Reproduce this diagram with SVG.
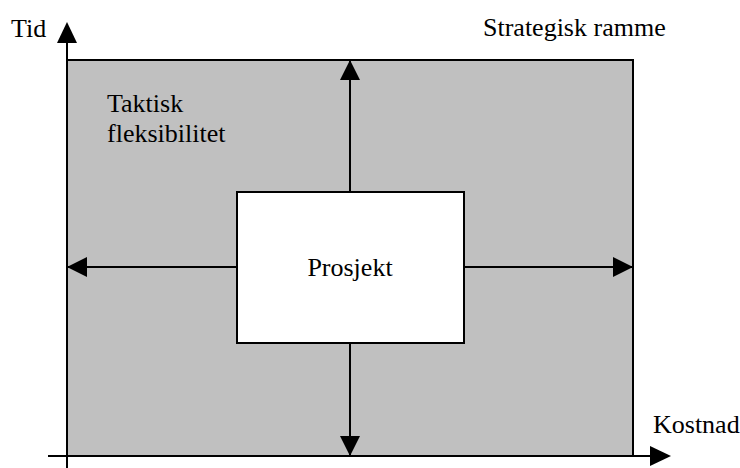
<svg xmlns="http://www.w3.org/2000/svg" width="740" height="468" viewBox="0 0 740 468">
<style>
.t{font-family:'Liberation Serif','Times New Roman','DejaVu Serif',serif;font-size:26px;fill:#000}
.ln{stroke:#000;stroke-width:2;fill:none}
</style>
<defs>
<marker id="ah" viewBox="0 0 20 20" refX="20" refY="10" markerWidth="20" markerHeight="20" markerUnits="userSpaceOnUse" orient="auto"><path d="M0,0 L20,10 L0,20 Z" fill="#000"/></marker>
</defs>
<rect x="0" y="0" width="740" height="468" fill="#fff"/>
<g id="frame">
<rect x="67" y="60" width="566" height="396" fill="#c0c0c0" stroke="#000" stroke-width="2"/>
<text class="t" x="483" y="36">Strategisk ramme</text>
</g>
<g id="tactical">
<text class="t" x="107" y="112">Taktisk</text>
<text class="t" x="107" y="142">fleksibilitet</text>
</g>
<g id="axes">
<line class="ln" x1="67" y1="468" x2="67" y2="42"/>
<path d="M67,22 L57,43 L77,43 Z" fill="#000"/>
<line class="ln" x1="48" y1="456" x2="651" y2="456"/>
<path d="M671,456 L650,446 L650,466 Z" fill="#000"/>
<text class="t" x="11" y="37">Tid</text>
<text class="t" x="653" y="433">Kostnad</text>
</g>
<g id="connectors">
<line class="ln" x1="350" y1="192" x2="350" y2="60" marker-end="url(#ah)"/>
<line class="ln" x1="350" y1="343" x2="350" y2="456" marker-end="url(#ah)"/>
<line class="ln" x1="237" y1="267" x2="67" y2="267" marker-end="url(#ah)"/>
<line class="ln" x1="464" y1="267" x2="633" y2="267" marker-end="url(#ah)"/>
</g>
<g id="project">
<rect x="237" y="192" width="227" height="151" fill="#fff" stroke="#000" stroke-width="2"/>
<text class="t" x="350" y="276" text-anchor="middle">Prosjekt</text>
</g>
</svg>
